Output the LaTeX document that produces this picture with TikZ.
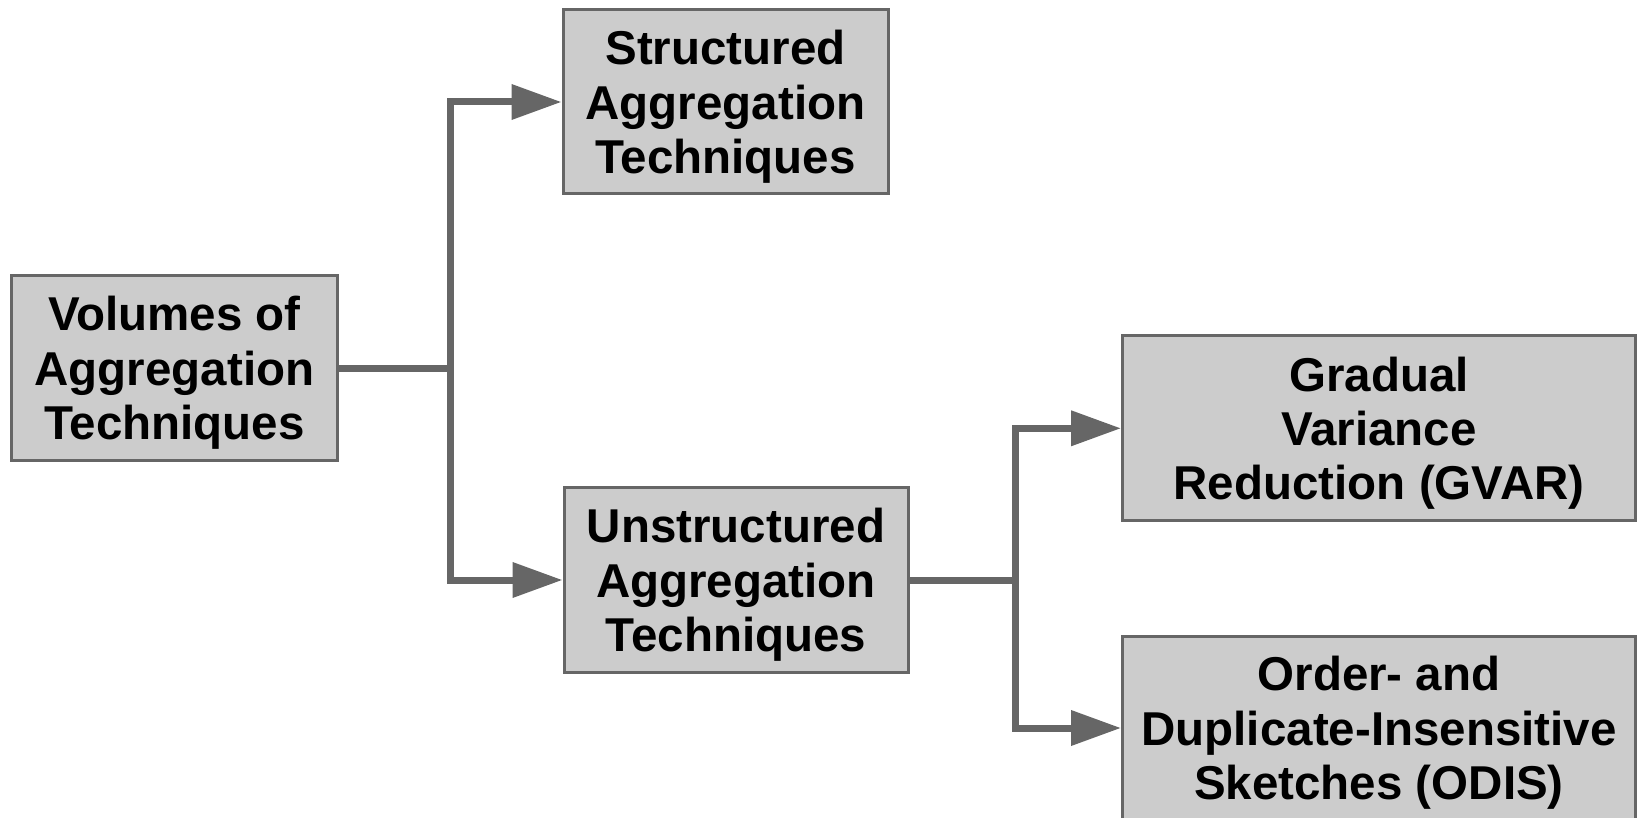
\documentclass[tikz,border=0pt]{standalone}
\usepackage{fontspec}
\setmainfont{Liberation Sans}
\usetikzlibrary{arrows.meta}
\definecolor{boxfill}{HTML}{CCCCCC}
\definecolor{edge}{HTML}{666666}
\tikzset{
  box/.style={draw=edge, line width=3pt, fill=boxfill, inner sep=0pt},
  txt/.style={inner sep=0pt, align=center, yshift=-5pt,
    font=\fontsize{47.5pt}{54.3pt}\selectfont\bfseries},
  conn/.style={draw=edge, line width=7pt, line join=miter, line cap=butt},
  arr/.style={conn, -{Triangle[length=50pt,width=34pt]}, edge, fill=none}
}
\begin{document}
\begin{tikzpicture}[x=1pt,y=-1pt]
\useasboundingbox (0,0) rectangle (1638,818);
% boxes, each with its centred caption
\node[box, minimum width=326pt, minimum height=185pt,
  label={[txt]center:{Volumes of\\Aggregation\\Techniques}}] (vol) at (174.5,368) {};
\node[box, minimum width=325pt, minimum height=184pt,
  label={[txt]center:{Structured\\Aggregation\\Techniques}}] (str) at (725.5,102) {};
\node[box, minimum width=344pt, minimum height=185pt,
  label={[txt]center:{Unstructured\\Aggregation\\Techniques}}] (uns) at (736,580) {};
\node[box, minimum width=513pt, minimum height=185pt,
  label={[txt]center:{Gradual\\Variance\\Reduction (GVAR)}}] (gvar) at (1379,428.3) {};
\node[box, minimum width=513pt, minimum height=184pt,
  label={[txt]center:{Order- and\\Duplicate-Insensitive\\Sketches (ODIS)}}] (odis) at (1379,728) {};
% branch points
\coordinate (j1) at (450,368);
\coordinate (j2) at (1015,580);
% connectors
\draw[conn] (vol.east) -- (j1);
\draw[arr] (j1) |- (str.west);
\draw[arr] (j1) |- (uns.west);
\draw[conn] (uns.east) -- (j2);
\draw[arr] (j2) |- (gvar.west);
\draw[arr] (j2) |- (odis.west);
\end{tikzpicture}
\end{document}
